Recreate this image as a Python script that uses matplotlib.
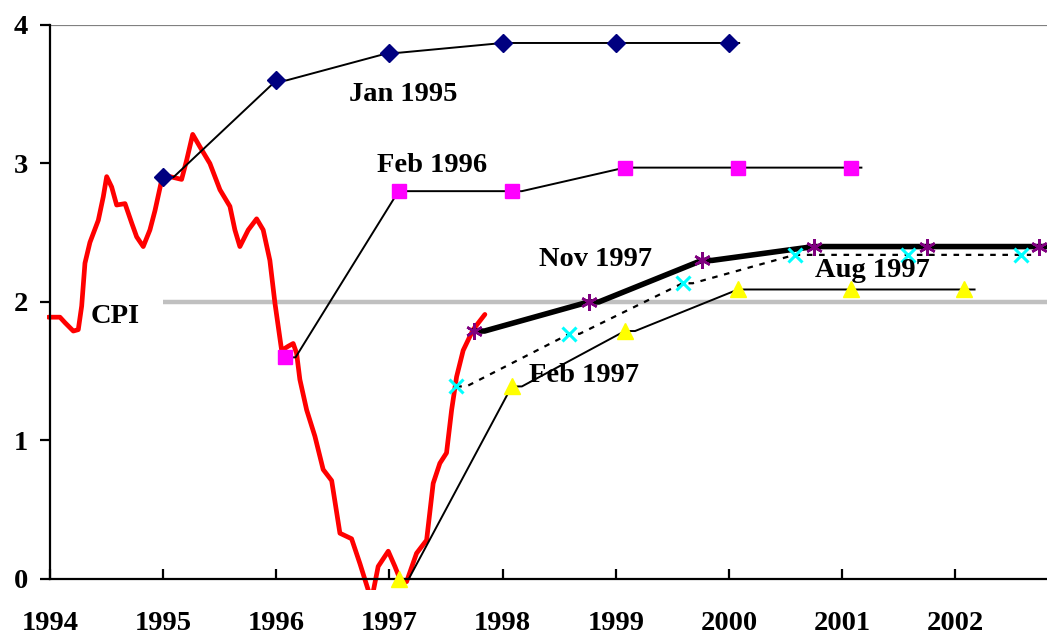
import matplotlib
matplotlib.use("Agg")
from matplotlib import pyplot as plt

# CPI inflation (monthly)
cpi_t = [1993.985, 1994.088, 1994.133, 1994.206, 1994.250, 1994.280, 1994.309, 1994.353,
         1994.427, 1994.471, 1994.501, 1994.545, 1994.589, 1994.663, 1994.722, 1994.766,
         1994.824, 1994.883, 1994.928, 1994.987, 1995.060, 1995.163, 1995.208, 1995.261,
         1995.325, 1995.413, 1995.502, 1995.590, 1995.634, 1995.678, 1995.752, 1995.826,
         1995.884, 1995.943, 1995.988, 1996.047, 1996.105, 1996.149, 1996.179, 1996.208,
         1996.268, 1996.341, 1996.414, 1996.489, 1996.562, 1996.665, 1996.739, 1996.812,
         1996.842, 1996.900, 1996.989, 1997.048, 1997.092, 1997.151, 1997.239, 1997.328,
         1997.386, 1997.445, 1997.504, 1997.549, 1997.593, 1997.651, 1997.739, 1997.843]
cpi_v = [1.89, 1.89, 1.85, 1.79, 1.80, 1.97, 2.28, 2.43,
         2.59, 2.76, 2.905, 2.83, 2.70, 2.71, 2.57, 2.47,
         2.40, 2.52, 2.66, 2.88, 2.905, 2.885, 3.025, 3.21,
         3.12, 3.00, 2.81, 2.69, 2.52, 2.40, 2.52, 2.60,
         2.52, 2.30, 1.99, 1.65, 1.68, 1.70, 1.63, 1.44,
         1.22, 1.03, 0.79, 0.71, 0.33, 0.29, 0.11, -0.08,
         -0.15, 0.09, 0.20, 0.09, 0.0, -0.02, 0.185, 0.28,
         0.69, 0.835, 0.91, 1.22, 1.46, 1.65, 1.80, 1.91]

target = 2.0
target_start = 1995.0

# forecasts made at different dates
jan95_t = [1995.0, 1996.0, 1997.0, 1998.0, 1999.0, 2000.0]
jan95_v = [2.90, 3.60, 3.80, 3.87, 3.87, 3.87]
feb96_t = [1996.08, 1997.08, 1998.08, 1999.08, 2000.08, 2001.08]
feb96_v = [1.60, 2.80, 2.80, 2.97, 2.97, 2.97]
feb97_t = [1997.08, 1998.08, 1999.08, 2000.08, 2001.08, 2002.08]
feb97_v = [0.0, 1.39, 1.79, 2.09, 2.09, 2.09]
aug97_t = [1997.59, 1998.59, 1999.59, 2000.58, 2001.58, 2002.58]
aug97_v = [1.39, 1.77, 2.135, 2.34, 2.34, 2.34]
nov97_t = [1997.75, 1998.76, 1999.76, 2000.75, 2001.75, 2002.74]
nov97_v = [1.79, 2.00, 2.30, 2.40, 2.40, 2.40]

years = list(range(1994, 2003))
x_min, x_max = 1993.97, 2002.81

FONT = "Liberation Serif"
FS = 20.5


def stub_line(ts, vs, stub=0.09):
    xs, ys = [], []
    for t, v in zip(ts, vs):
        xs += [t, t + stub]
        ys += [v, v]
    return xs, ys


fig = plt.figure(figsize=(10.47, 6.34), dpi=100)
ax = fig.add_axes([0.0445, 0.0694, 0.9555, 0.8912])
ax.set_xlim(x_min, x_max)
ax.set_ylim(-0.08, 4)

ax.hlines(4, 1994, x_max, color="#808080", lw=1.6, zorder=1)
ax.hlines(target, target_start, x_max, color="#C0C0C0", lw=3.2, zorder=1)

ax.plot(cpi_t, cpi_v, color="red", lw=3.4, zorder=2, solid_joinstyle="round",
        solid_capstyle="round")

series = [
    (jan95_t, jan95_v, dict(lw=1.4), dict(marker="D", color="#000080", ms=9)),
    (feb96_t, feb96_v, dict(lw=1.4), dict(marker="s", color="#FF00FF", ms=10)),
    (feb97_t, feb97_v, dict(lw=1.4), dict(marker="^", color="#FFFF00", ms=11)),
    (aug97_t, aug97_v, dict(lw=1.6, ls=(0, (2.5, 3))), dict(marker="x", color="#00FFFF", ms=10, mew=2.2)),
    (nov97_t, nov97_v, dict(lw=4), dict(marker=(6, 2, 0), color="#800080", ms=12, mew=1.8)),
]
for ts, vs, lstyle, mstyle in series:
    lx, ly = stub_line(ts, vs)
    ax.plot(lx, ly, color="black", zorder=3, **lstyle)
    c = mstyle.pop("color")
    ax.plot(ts, vs, ls="none", color=c, mfc=c, mec=c, zorder=4, **mstyle)

labels = [("Jan 1995", 1997.12, 3.45), ("Feb 1996", 1997.38, 2.94),
          ("Nov 1997", 1998.82, 2.26), ("Aug 1997", 2001.27, 2.18),
          ("Feb 1997", 1998.72, 1.425), ("CPI", 1994.58, 1.85)]
for txt, tx, ty in labels:
    ax.text(tx, ty, txt, ha="center", va="baseline", fontsize=FS,
            fontweight="bold", family=FONT, zorder=5)

for s in ["top", "right"]:
    ax.spines[s].set_visible(False)
ax.spines["left"].set_position(("data", 1994))
ax.spines["left"].set_bounds(0, 4)
ax.spines["bottom"].set_position(("data", 0))
ax.spines["bottom"].set_bounds(1994, x_max)
for s in ["left", "bottom"]:
    ax.spines[s].set_linewidth(1.6)

ax.set_xticks(years)
ax.set_xticklabels([str(y) for y in years])
ax.set_yticks([0, 1, 2, 3, 4])
ax.tick_params(axis="x", direction="in", length=7, width=1.6, pad=23)
ax.tick_params(axis="y", direction="out", length=7, width=1.6, pad=9)
for lab in ax.get_xticklabels() + ax.get_yticklabels():
    lab.set_fontfamily(FONT)
    lab.set_fontweight("bold")
    lab.set_fontsize(FS)

fig.savefig("out.png", dpi=100)
